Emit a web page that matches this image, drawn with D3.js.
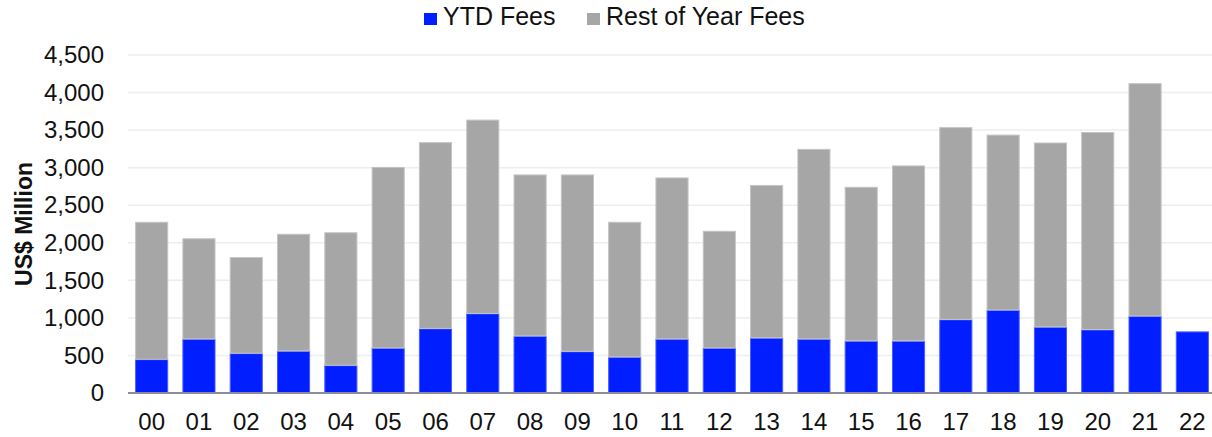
<!DOCTYPE html>
<html>
<head>
<meta charset="utf-8">
<script src="https://cdn.jsdelivr.net/npm/d3@7"></script>
<style>
  body { margin: 0; background: #fff; }
  text { font-family: "Liberation Sans", Arial, sans-serif; fill: #111; }
</style>
</head>
<body>
<script>
// data
var years = ["00","01","02","03","04","05","06","07","08","09","10","11","12","13","14","15","16","17","18","19","20","21","22"];
var ytdFees  = [450, 720, 530, 560, 370, 600, 860, 1060, 760, 555, 480, 720, 600, 735, 720, 695, 695, 980, 1105, 880, 845, 1025, 820];
var restFees = [1830, 1340, 1280, 1560, 1770, 2410, 2480, 2580, 2150, 2355, 1800, 2150, 1560, 2035, 2530, 2050, 2335, 2560, 2335, 2455, 2630, 3100, 0];
var yTicks = [0, 500, 1000, 1500, 2000, 2500, 3000, 3500, 4000, 4500];
var seriesNames = ["YTD Fees", "Rest of Year Fees"];
var colors = ["#001EFF", "#A6A6A6"];

function drawChart(){
    var width = 1212, height = 437;
    var svg = d3.select("body").append("svg").attr("width", width).attr("height", height);

    // build rows for the stack
    var rows = [];
    for (var i = 0; i < years.length; i++) {
        rows.push({year: years[i], ytd: ytdFees[i], rest: restFees[i]});
    }
    var stacked = d3.stack().keys(["ytd", "rest"])(rows);

    var x = d3.scaleBand().domain(years).range([128, 1216]).paddingInner(0.3).paddingOuter(0.15);
    var y = d3.scaleLinear().domain([0, 4500]).range([393, 55]);

    // gridlines
    svg.append("g").selectAll("line").data(yTicks.slice(1)).enter().append("line")
        .attr("x1", 128).attr("x2", width)
        .attr("y1", function(d){ return y(d); }).attr("y2", function(d){ return y(d); })
        .attr("stroke", "#EEEEEE").attr("stroke-width", 1.5);

    // bars
    svg.append("g").selectAll("g").data(stacked).enter().append("g")
        .attr("fill", function(d, i){ return colors[i]; })
        .attr("stroke", function(d, i){ return i == 0 ? "#4A5CFF" : "#C4C4C4"; })
        .attr("stroke-width", 1)
        .selectAll("rect").data(function(d){ return d.filter(function(p){ return p[1] > p[0]; }); })
        .enter().append("rect")
        .attr("x", function(d){ return x(d.data.year) + 0.5; })
        .attr("width", x.bandwidth() - 1)
        .attr("y", function(d){ return y(d[1]) + 0.5; })
        .attr("height", function(d){ return y(d[0]) - y(d[1]) - 0.5; });

    // baseline
    svg.append("line").attr("x1", 128).attr("x2", width)
        .attr("y1", y(0)).attr("y2", y(0))
        .attr("stroke", "#8C8C96").attr("stroke-width", 2);

    // y axis
    var yAxis = d3.axisLeft(y).tickValues(yTicks).tickFormat(d3.format(",")).tickSize(0).tickPadding(24);
    var gy = svg.append("g").attr("transform", "translate(128,0)").call(yAxis);
    gy.select(".domain").remove();
    gy.selectAll("text").style("font-size", "24px").attr("fill", "#111");

    // x axis
    var xAxis = d3.axisBottom(x).tickSize(0).tickPadding(20);
    var gx = svg.append("g").attr("transform", "translate(0," + y(0) + ")").call(xAxis);
    gx.select(".domain").remove();
    gx.selectAll("text").style("font-size", "24px").attr("fill", "#111");

    // y title
    svg.append("text")
        .attr("transform", "translate(32,224) rotate(-90)")
        .attr("text-anchor", "middle")
        .style("font-size", "23px").style("font-weight", "bold")
        .text("US$ Million");

    // legend
    var legX = [424, 587];
    var leg = svg.append("g").selectAll("g").data(seriesNames).enter().append("g")
        .attr("transform", function(d, i){ return "translate(" + legX[i] + ",0)"; });
    leg.append("rect").attr("x", 0).attr("y", 13).attr("width", 13).attr("height", 12)
        .attr("fill", function(d, i){ return colors[i]; });
    leg.append("text").attr("x", 19).attr("y", 25).style("font-size", "25px")
        .text(function(d){ return d; });
}
drawChart();
</script>
</body>
</html>
